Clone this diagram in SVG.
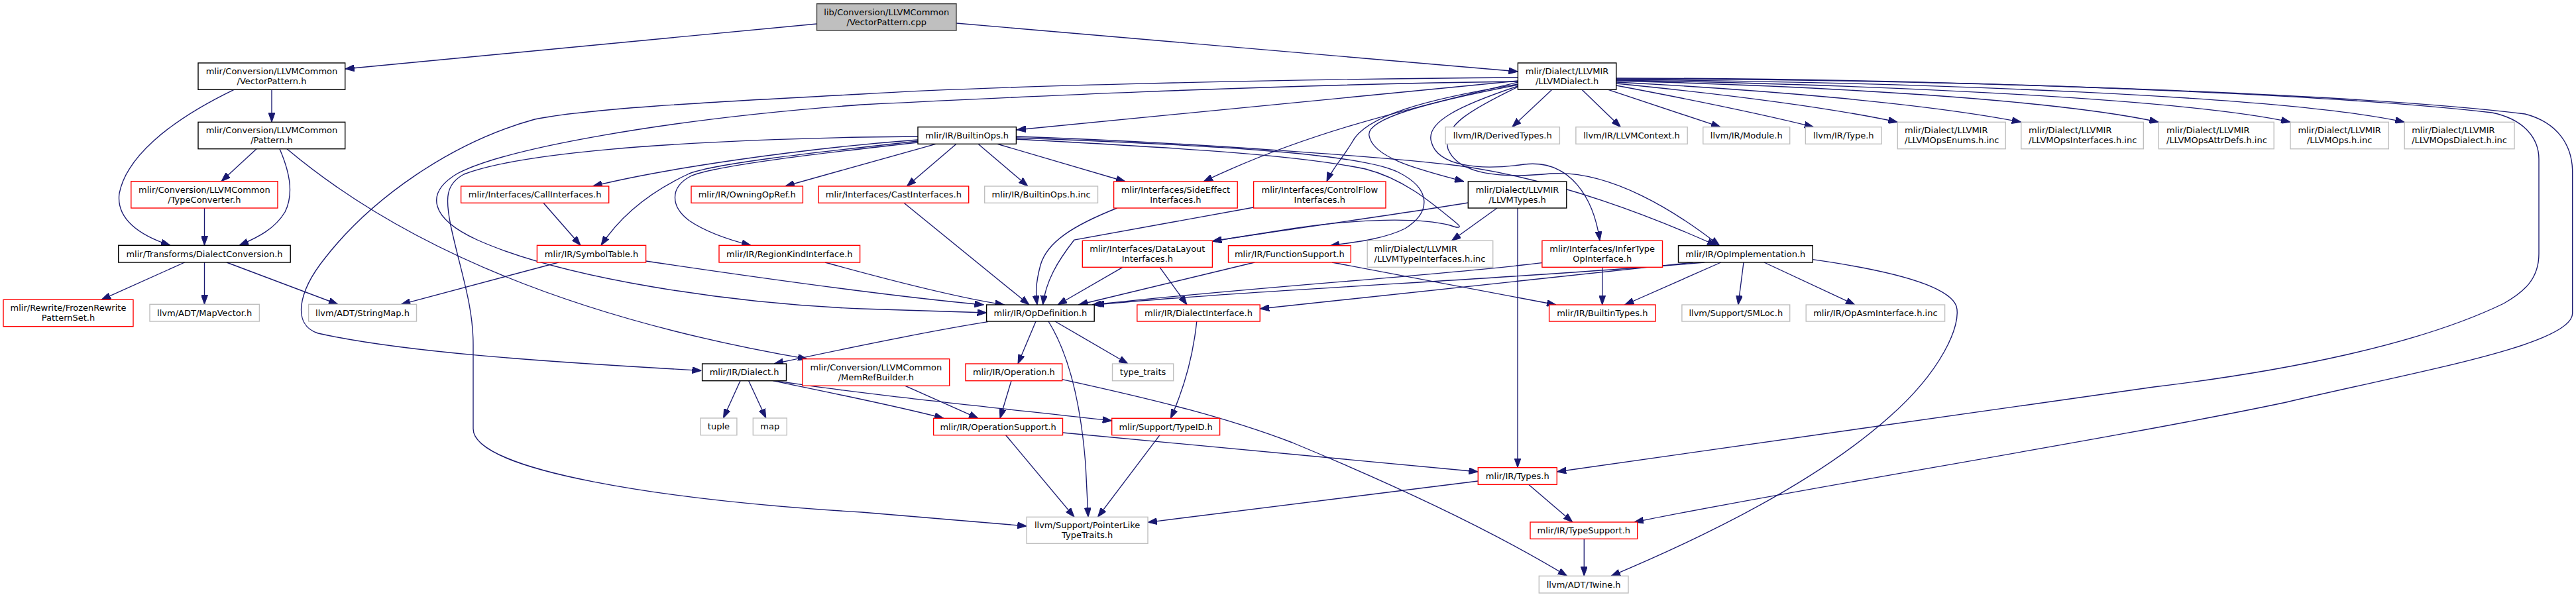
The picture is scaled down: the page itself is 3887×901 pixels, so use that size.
<svg xmlns="http://www.w3.org/2000/svg" width="3887" height="901" viewBox="0 0 3887 901">
<defs>
<style>
.n rect{fill:#ffffff;stroke-width:1.4}
.k rect{stroke:#000000}
.r rect{stroke:#ff0000}
.g rect{stroke:#bfbfbf}
.root rect{fill:#bfbfbf;stroke:#404040}
text{font-family:"DejaVu Sans","Liberation Sans",sans-serif;font-size:13px;fill:#000000;text-anchor:middle}
text.l{text-anchor:start}
.e path{fill:none;stroke:#191970;stroke-width:1.35;marker-end:url(#a)}
</style>
<marker id="a" viewBox="0 0 14 10" refX="14" refY="5" markerWidth="14" markerHeight="10" markerUnits="userSpaceOnUse" orient="auto">
<path d="M0,0 L14,5 L0,10 z" fill="#191970" stroke="#191970" stroke-width="1"/>
</marker>
</defs>
<rect x="0" y="0" width="3887" height="901" fill="#ffffff"/>

<g class="e" id="edges">
<path d="M1232.5,36 L520.7,104"/>
<path d="M1443,35 L2290.4,108"/>
<path d="M410,135.3 L410,184.3"/>
<path d="M353,135.3 C250,185 190,240 180,292 C175,330 210,355 257,370.3"/>
<path d="M387,224.7 L334,273.7"/>
<path d="M422,224.7 C435,255 445,290 430,320 C415,345 390,358 361,370.3"/>
<path d="M433,224.7 C570,340 800,470 1218,541.7"/>
<path d="M308.5,314 L308.5,370.3"/>
<path d="M278.6,396 L153,452.3"/>
<path d="M308.5,396 L308.5,459.3"/>
<path d="M342,396 L510,459.3"/>
<path d="M1385,211 C1200,225 1000,255 894.6,281"/>
<path d="M1412,217.3 L1184.8,281"/>
<path d="M1443,217.3 L1368.4,281"/>
<path d="M1476,217.3 L1551,281"/>
<path d="M1505,217.3 L1698,274"/>
<path d="M1385,213 C1250,228 1080,246 1040,262 C990,285 940,320 907,370.3"/>
<path d="M1385,215 C1250,230 1075,250 1042,266 C1010,283 1012,312 1040,333 C1065,350 1100,362 1133,370.3"/>
<path d="M1385,206 L1300,207 C1000,213 780,232 700,263 C672,278 672,300 680,340 C695,410 714,460 714,520 L714,647 C714,710 1000,755 1300,773 L1549.2,794"/>
<path d="M1533.4,210 C1750,222 1950,232 2060,255 C2120,270 2165,310 2198,337 C2208,345 2198,344 2188,340 C2140,328 2050,330 1950,345 L1829.4,364"/>
<path d="M1533.4,208 C1800,218 2050,230 2110,260 C2160,285 2160,320 2120,345 C2090,360 2050,365 2007,370.7"/>
<path d="M1533.4,206 C1800,215 2100,238 2200,250 C2350,270 2500,330 2590,370.7"/>
<path d="M2290.4,122 L1534,196"/>
<path d="M2290.4,117 C1900,120 1500,130 1300,142 C1050,155 880,165 807,180 C680,215 560,300 490,390 C450,440 440,490 480,503 C600,530 800,545 1058.4,559.3"/>
<path d="M2290.4,123 C1900,128 1500,148 1300,158 C1000,180 760,225 690,262 C640,292 650,330 720,362 C850,420 1100,458 1300,466 L1488.6,472"/>
<path d="M2290.4,124 C2100,170 1960,205 1816,274"/>
<path d="M2290.4,127 C2150,150 2060,175 2040,215 C2025,240 2010,255 2002,274"/>
<path d="M2290.4,128 C2150,155 2060,180 2066,205 C2072,240 2150,258 2209,274"/>
<path d="M2290.4,130 C2200,160 2150,185 2160,215 C2170,250 2230,258 2300,248 C2370,240 2405,300 2414,363.3"/>
<path d="M2290.4,131 C2220,165 2175,190 2185,225 C2200,262 2260,270 2340,262 C2430,256 2530,320 2594.7,370.7"/>
<path d="M2341.8,135.3 L2281.7,191.7"/>
<path d="M2387,135.3 L2445.4,191.7"/>
<path d="M2426.8,135.3 L2596,191.7"/>
<path d="M2438.8,129 C2550,150 2650,170 2736.8,191.7"/>
<path d="M2438.8,126 C2600,142 2750,160 2863.3,184.3"/>
<path d="M2438.8,124 C2650,135 2900,155 3049.8,184.3"/>
<path d="M2438.8,122 C2750,130 3100,150 3257.3,184.3"/>
<path d="M2438.8,121 C2850,128 3300,150 3456,184.3"/>
<path d="M2438.8,120 C2900,124 3450,145 3628.2,184.3"/>
<path d="M2438.8,118 C2900,118 3500,140 3760,170 C3810,180 3831,210 3831,240 L3831,383 C3831,420 3810,440 3778,458 C3650,520 3450,560 3250,584 C3000,620 2700,665 2349.3,712"/>
<path d="M2438.8,119 C2900,119 3550,140 3810,172 C3860,185 3881.7,220 3881.7,260 L3881.7,473 C3881.7,520 3650,560 3450,607 C3200,660 2700,740 2466,788"/>
<path d="M2290,314 L2290,705.7"/>
<path d="M2259,314 L2190.5,363.3"/>
<path d="M2215.3,306 C2100,325 1950,345 1829.4,364"/>
<path d="M2326.9,396.7 C2150,418 1900,432 1648,460"/>
<path d="M2572,396 C2300,420 1900,437 1652,460"/>
<path d="M2555,396 C2300,425 2100,445 1901.2,466"/>
<path d="M2596.8,396 L2451.7,460"/>
<path d="M2631,396 L2622.8,460"/>
<path d="M2662,396 L2799,460"/>
<path d="M2735.2,391.7 C2850,408 2940,430 2952,462 C2960,490 2930,560 2850,630 C2760,710 2620,790 2431,869.3"/>
<path d="M2417.7,403.3 L2417.7,460"/>
<path d="M2010,396 L2348,460"/>
<path d="M1893,396 L1627.5,460"/>
<path d="M1685.6,314 C1620,340 1580,365 1570,400 C1562,430 1563,445 1565,460"/>
<path d="M1891.6,313 L1621,362 C1595,395 1578,425 1573.6,460"/>
<path d="M1694,403.3 L1596,460"/>
<path d="M1750,403.3 L1791,460"/>
<path d="M1364,306.3 L1553,460"/>
<path d="M820,306.3 L876,370.3"/>
<path d="M842.8,396 L605.3,459.3"/>
<path d="M974.6,394 C1150,420 1350,448 1484.5,460"/>
<path d="M1245,396 C1350,425 1450,450 1515.6,460"/>
<path d="M1490.7,485.7 C1400,500 1280,525 1168,549"/>
<path d="M1563,485 L1536,549"/>
<path d="M1582,485 C1610,530 1630,600 1638,700 L1642,780.3"/>
<path d="M1592,485 L1702,549"/>
<path d="M1805.8,485 C1800,540 1785,590 1766.4,631.3"/>
<path d="M1366,582.3 L1476,631.3"/>
<path d="M1526,574.7 L1509,631.3"/>
<path d="M1602.7,572.7 C1750,605 1850,630 1950,668 C2100,730 2250,800 2364.6,869.3"/>
<path d="M1517.7,656.7 L1621,780.3"/>
<path d="M1603.5,653 L2230.3,712"/>
<path d="M1750,656.7 L1656.5,780.3"/>
<path d="M2230.3,726 L1732,788.3"/>
<path d="M2306.6,731.3 L2372.9,788"/>
<path d="M2390.3,813.3 L2390.3,869.3"/>
<path d="M1117,574.7 L1091.5,631"/>
<path d="M1129.7,574.7 L1155.8,631"/>
<path d="M1166,574.7 C1250,592 1350,612 1424,631.3"/>
<path d="M1170,574.7 C1300,595 1500,615 1677.7,635"/>
</g>

<g id="n_root" class="n root"><rect x="1232.5" y="5.7" width="210.5" height="40.3"/><text x="1337.75" y="22.5">lib/Conversion/LLVMCommon</text><text x="1337.75" y="37.5">/VectorPattern.cpp</text></g>
<g id="n_vectorpattern" class="n k"><rect x="299" y="95" width="221.7" height="40.3"/><text x="410" y="111.8">mlir/Conversion/LLVMCommon</text><text x="410" y="126.8">/VectorPattern.h</text></g>
<g id="n_pattern" class="n k"><rect x="299" y="184.3" width="221.7" height="40.4"/><text x="410" y="201.2">mlir/Conversion/LLVMCommon</text><text x="410" y="216.2">/Pattern.h</text></g>
<g id="n_typeconverter" class="n r"><rect x="197.8" y="273.7" width="221.2" height="40.3"/><text x="308.4" y="290.5">mlir/Conversion/LLVMCommon</text><text x="308.4" y="305.5">/TypeConverter.h</text></g>
<g id="n_dialectconversion" class="n k"><rect x="178.7" y="370.3" width="259.5" height="25.7"/><text x="308.5" y="387.6">mlir/Transforms/DialectConversion.h</text></g>
<g id="n_frozen" class="n r"><rect x="5" y="452.3" width="196" height="40.4"/><text x="103" y="469.2">mlir/Rewrite/FrozenRewrite</text><text x="103" y="484.2">PatternSet.h</text></g>
<g id="n_mapvector" class="n g"><rect x="226" y="459.3" width="165.4" height="25.7"/><text x="308.7" y="476.6">llvm/ADT/MapVector.h</text></g>
<g id="n_stringmap" class="n g"><rect x="465.6" y="459.3" width="162.9" height="25.7"/><text x="547" y="476.6">llvm/ADT/StringMap.h</text></g>
<g id="n_callif" class="n r"><rect x="695.6" y="281" width="223.1" height="25.3"/><text x="807.15" y="298.1">mlir/Interfaces/CallInterfaces.h</text></g>
<g id="n_owning" class="n r"><rect x="1043" y="281" width="168.4" height="25.3"/><text x="1127.2" y="298.1">mlir/IR/OwningOpRef.h</text></g>
<g id="n_castif" class="n r"><rect x="1235" y="281" width="226.7" height="25.3"/><text x="1348.35" y="298.1">mlir/Interfaces/CastInterfaces.h</text></g>
<g id="n_symboltable" class="n r"><rect x="810.4" y="370.3" width="164.2" height="25.7"/><text x="892.5" y="387.6">mlir/IR/SymbolTable.h</text></g>
<g id="n_regionkind" class="n r"><rect x="1085" y="370.3" width="212.6" height="25.7"/><text x="1191.3" y="387.6">mlir/IR/RegionKindInterface.h</text></g>
<g id="n_builtinops" class="n k"><rect x="1385" y="191.7" width="148.4" height="25.6"/><text x="1459.2" y="209">mlir/IR/BuiltinOps.h</text></g>
<g id="n_builtinopsinc" class="n g"><rect x="1485.7" y="281" width="170.8" height="25.3"/><text x="1571.1" y="298.1">mlir/IR/BuiltinOps.h.inc</text></g>
<g id="n_sideeffect" class="n r"><rect x="1680.6" y="274" width="186.6" height="40"/><text x="1773.9" y="290.7">mlir/Interfaces/SideEffect</text><text x="1773.9" y="305.7">Interfaces.h</text></g>
<g id="n_controlflow" class="n r"><rect x="1891.6" y="274" width="199.4" height="40"/><text x="1991.3" y="290.7">mlir/Interfaces/ControlFlow</text><text x="1991.3" y="305.7">Interfaces.h</text></g>
<g id="n_datalayout" class="n r"><rect x="1633.3" y="363.3" width="196.1" height="40"/><text x="1731.35" y="380">mlir/Interfaces/DataLayout</text><text x="1731.35" y="395">Interfaces.h</text></g>
<g id="n_functionsupport" class="n r"><rect x="1853.5" y="370.7" width="184.8" height="25.3"/><text x="1945.9" y="387.9">mlir/IR/FunctionSupport.h</text></g>
<g id="n_llvmdialect" class="n k"><rect x="2290.4" y="95" width="148.4" height="40.3"/><text x="2364.6" y="111.8">mlir/Dialect/LLVMIR</text><text x="2364.6" y="126.8">/LLVMDialect.h</text></g>
<g id="n_derivedtypes" class="n g"><rect x="2181" y="191.7" width="172.4" height="25.6"/><text x="2267.2" y="209">llvm/IR/DerivedTypes.h</text></g>
<g id="n_llvmcontext" class="n g"><rect x="2377.9" y="191.7" width="168.3" height="25.6"/><text x="2462" y="209">llvm/IR/LLVMContext.h</text></g>
<g id="n_module" class="n g"><rect x="2569.8" y="191.7" width="130.9" height="25.6"/><text x="2635.25" y="209">llvm/IR/Module.h</text></g>
<g id="n_type" class="n g"><rect x="2724.4" y="191.7" width="114.8" height="25.6"/><text x="2781.8" y="209">llvm/IR/Type.h</text></g>
<g id="n_opsenums" class="n g"><rect x="2863.3" y="184.3" width="162.9" height="40.4"/><text class="l" x="2874" y="201.2">mlir/Dialect/LLVMIR</text><text class="l" x="2874" y="216.2">/LLVMOpsEnums.h.inc</text></g>
<g id="n_opsinterfaces" class="n g"><rect x="3049.8" y="184.3" width="184.5" height="40.4"/><text class="l" x="3061" y="201.2">mlir/Dialect/LLVMIR</text><text class="l" x="3061" y="216.2">/LLVMOpsInterfaces.h.inc</text></g>
<g id="n_opsattrdefs" class="n g"><rect x="3257.3" y="184.3" width="173.9" height="40.4"/><text class="l" x="3269" y="201.2">mlir/Dialect/LLVMIR</text><text class="l" x="3269" y="216.2">/LLVMOpsAttrDefs.h.inc</text></g>
<g id="n_opsinc" class="n g"><rect x="3456" y="184.3" width="148.3" height="40.4"/><text x="3530.15" y="201.2">mlir/Dialect/LLVMIR</text><text x="3530.15" y="216.2">/LLVMOps.h.inc</text></g>
<g id="n_opsdialect" class="n g"><rect x="3628.2" y="184.3" width="165.8" height="40.4"/><text class="l" x="3639.2" y="201.2">mlir/Dialect/LLVMIR</text><text class="l" x="3639.2" y="216.2">/LLVMOpsDialect.h.inc</text></g>
<g id="n_llvmtypes" class="n k"><rect x="2215.3" y="274" width="148.5" height="40"/><text x="2289.55" y="290.7">mlir/Dialect/LLVMIR</text><text x="2289.55" y="305.7">/LLVMTypes.h</text></g>
<g id="n_llvmtypeif" class="n g"><rect x="2063.2" y="363.3" width="189.5" height="40"/><text class="l" x="2073.5" y="380">mlir/Dialect/LLVMIR</text><text class="l" x="2073.5" y="395">/LLVMTypeInterfaces.h.inc</text></g>
<g id="n_infertype" class="n r"><rect x="2326.9" y="363.3" width="181.6" height="40"/><text x="2417.7" y="380">mlir/Interfaces/InferType</text><text x="2417.7" y="395">OpInterface.h</text></g>
<g id="n_opimpl" class="n k"><rect x="2532.5" y="370.7" width="202.7" height="25.3"/><text x="2633.85" y="387.9">mlir/IR/OpImplementation.h</text></g>
<g id="n_opdefinition" class="n k"><rect x="1488.6" y="460" width="162.6" height="25"/><text x="1569.9" y="477">mlir/IR/OpDefinition.h</text></g>
<g id="n_dialectif" class="n r"><rect x="1715.8" y="460" width="185.4" height="25"/><text x="1808.5" y="477">mlir/IR/DialectInterface.h</text></g>
<g id="n_builtintypes" class="n r"><rect x="2337.6" y="460" width="160.4" height="25"/><text x="2417.8" y="477">mlir/IR/BuiltinTypes.h</text></g>
<g id="n_smloc" class="n g"><rect x="2537.9" y="460" width="162.8" height="25"/><text x="2619.3" y="477">llvm/Support/SMLoc.h</text></g>
<g id="n_opasm" class="n g"><rect x="2725.2" y="460" width="209.4" height="25"/><text x="2829.9" y="477">mlir/IR/OpAsmInterface.h.inc</text></g>
<g id="n_dialect" class="n k"><rect x="1059.6" y="549" width="126.9" height="25.7"/><text x="1123.05" y="566.4">mlir/IR/Dialect.h</text></g>
<g id="n_memrefbuilder" class="n r"><rect x="1211" y="541.7" width="221.7" height="40.6"/><text x="1321.85" y="558.7">mlir/Conversion/LLVMCommon</text><text x="1321.85" y="573.7">/MemRefBuilder.h</text></g>
<g id="n_operation" class="n r"><rect x="1457" y="549" width="145.7" height="25.7"/><text x="1529.85" y="566.4">mlir/IR/Operation.h</text></g>
<g id="n_typetraits" class="n g"><rect x="1678.5" y="549" width="92.1" height="25.7"/><text x="1724.55" y="566.4">type_traits</text></g>
<g id="n_tuple" class="n g"><rect x="1057" y="631" width="54.9" height="25.7"/><text x="1084.45" y="648.4">tuple</text></g>
<g id="n_map" class="n g"><rect x="1136.3" y="631" width="51" height="25.7"/><text x="1161.8" y="648.4">map</text></g>
<g id="n_opsupport" class="n r"><rect x="1408.6" y="631.3" width="194.9" height="25.4"/><text x="1506.05" y="648.5">mlir/IR/OperationSupport.h</text></g>
<g id="n_typeid" class="n r"><rect x="1677.7" y="631.3" width="162.9" height="25.4"/><text x="1759.15" y="648.5">mlir/Support/TypeID.h</text></g>
<g id="n_pointerlike" class="n g"><rect x="1549.2" y="780.3" width="182.8" height="40"/><text x="1640.6" y="797">llvm/Support/PointerLike</text><text x="1640.6" y="812">TypeTraits.h</text></g>
<g id="n_types" class="n r"><rect x="2230.3" y="705.7" width="119" height="25.6"/><text x="2289.8" y="723">mlir/IR/Types.h</text></g>
<g id="n_typesupport" class="n r"><rect x="2309" y="788" width="161.7" height="25.3"/><text x="2389.85" y="805.2">mlir/IR/TypeSupport.h</text></g>
<g id="n_twine" class="n g"><rect x="2322.3" y="869.3" width="134.7" height="25.7"/><text x="2389.65" y="886.7">llvm/ADT/Twine.h</text></g>
</svg>
